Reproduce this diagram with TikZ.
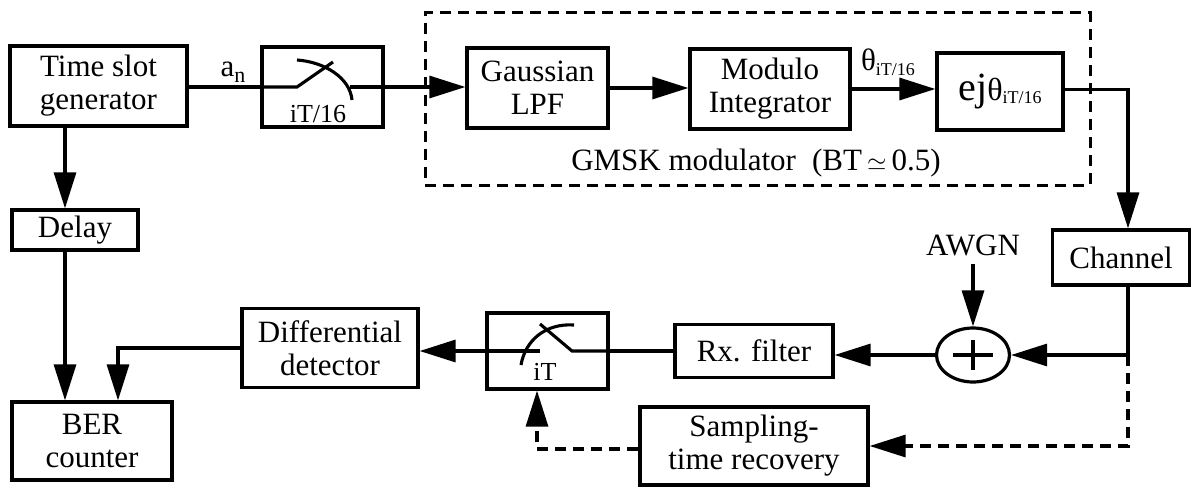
\documentclass[tikz,border=0pt]{standalone}
\usepackage{fontspec}
\setmainfont{Liberation Serif}
\usetikzlibrary{arrows.meta,shapes.geometric,calc}
\begin{document}
\begin{tikzpicture}[x=1pt,y=-1pt,
  line width=3.1pt,
  every node/.style={font=\fontsize{31}{33}\selectfont},
  blk/.style={draw, line width=3.2pt, align=center, inner sep=0pt},
  arr/.style={-{Triangle[length=36pt,width=22pt]}},
  dsh/.style={dash pattern=on 11pt off 7pt},
]
\useasboundingbox (0,0) rectangle (1193,487);

% guide coordinates for off-centre connectors
\coordinate (dx) at (65,0);
\coordinate (bx) at (118,0);
\coordinate (chx) at (1128,0);
\coordinate (sx) at (537,0);

% transmitter
\node[blk, minimum width=177, minimum height=80] (tsg) at (98.5,86) {Time slot\\generator};
\node[blk, minimum width=121, minimum height=80] (sw1) at (322.5,87) {};
\node[blk, dsh, line width=3pt, minimum width=665, minimum height=172] (gmsk) at (757.5,99) {};
\node[blk, minimum width=141, minimum height=80] (gl) at (537.5,88) {Gaussian\\LPF};
\node[blk, minimum width=160, minimum height=80] (mi) at (770,89) {Modulo\\Integrator};
\node[blk, minimum width=126, minimum height=77] (ex) at (1000,91.5)
  {{\fontsize{40}{40}\selectfont ej}{\fontsize{32}{32}\selectfont θ}\raisebox{-3pt}{\fontsize{18}{18}\selectfont iT/16}};
\node (gmsklbl) at (756,163) {GMSK modulator\hspace{16pt}(BT\,$\simeq$\,0.5)};
\node (an) at (233,72) {a\raisebox{-6pt}{\fontsize{22}{22}\selectfont n}};
\node (th) at (888,62) {θ\raisebox{-5pt}{\fontsize{18}{18}\selectfont iT/16}};

% channel and receiver
\node[blk, minimum width=137, minimum height=55] (ch) at (1121,257.5) {Channel};
\node (awgn) at (973,245) {AWGN};
\node[draw, ellipse, line width=3.2pt, minimum width=73, minimum height=54, inner sep=0pt] (sum) at (973,355) {};
\node[blk, minimum width=158, minimum height=53] (rx) at (754,351) {Rx. filter};
\node[blk, minimum width=121, minimum height=76] (sw2) at (547.5,351) {};
\node[blk, minimum width=176, minimum height=79] (dd) at (330,348) {Differential\\detector};
\node[blk, minimum width=228, minimum height=78] (str) at (754,446) {Sampling-\\time recovery};
\node[blk, minimum width=126, minimum height=40] (delay) at (75,230) {Delay};
\node[blk, minimum width=160, minimum height=78] (ber) at (92,441) {BER\\counter};

% plus sign in the summer
\draw (sum.center) +(-20,0) -- +(20,0);
\draw (sum.center) +(0,-15) -- +(0,15);

% sampler iT/16
\draw (sw1.west) -- ([shift={(-25.5,0)}]sw1.center) -- ([shift={(10.5,-25)}]sw1.center);
\draw ([shift={(-25.5,-27)}]sw1.center) .. controls ([shift={(2.5,-25)}]sw1.center)
  and ([shift={(27.5,-9)}]sw1.center) .. ([shift={(29.5,13)}]sw1.center);
\draw ([shift={(27.5,0)}]sw1.center) -- (sw1.east);
\node[font=\fontsize{26}{26}\selectfont] (sw1lbl) at ([shift={(-4.5,27)}]sw1.center) {iT/16};

% sampler iT
\draw (sw2.east) -- ([shift={(24.5,0)}]sw2.center) -- ([shift={(-7.5,-27)}]sw2.center);
\draw ([shift={(26.5,-26)}]sw2.center) .. controls ([shift={(-2.5,-28)}]sw2.center)
  and ([shift={(-22.5,-10)}]sw2.center) .. ([shift={(-26.5,14)}]sw2.center);
\draw ([shift={(-7.5,0)}]sw2.center) -- (sw2.west);
\node[font=\fontsize{26}{26}\selectfont] (sw2lbl) at ([shift={(-2.5,21)}]sw2.center) {iT};

% signal path
\draw (sw1.west -| tsg.east) -- (sw1.west);
\draw[arr] (sw1.east) -- (sw1.east -| gl.west);
\draw[arr] (gl.east) -- (gl.east -| mi.west);
\draw[arr] (mi.east) -- (mi.east -| ex.west);
\draw[arr] ([yshift=2]ex.east) -| (ch.north -| chx);
\draw[arr] (ch.south -| chx) |- (sum.east);
\draw[arr] (awgn.south) ++(0,4) -- (sum.north);
\draw[arr] (sum.west) -- (sum.west -| rx.east);
\draw (rx.west) -- (sw2.east);
\draw[arr] (sw2.west) -- (sw2.west -| dd.east);
\draw[arr] (dd.west) -| (ber.north -| bx);
\draw[arr] (tsg.south -| dx) -- (delay.north -| dx);
\draw[arr] (delay.south -| dx) -- (ber.north -| dx);

% timing recovery (dashed)
\draw[dsh, arr] (sum.east -| chx) |- (str.east);
\draw[dsh, arr] ([yshift=-3]str.west) -| (sw2.south -| sx);
\end{tikzpicture}
\end{document}
